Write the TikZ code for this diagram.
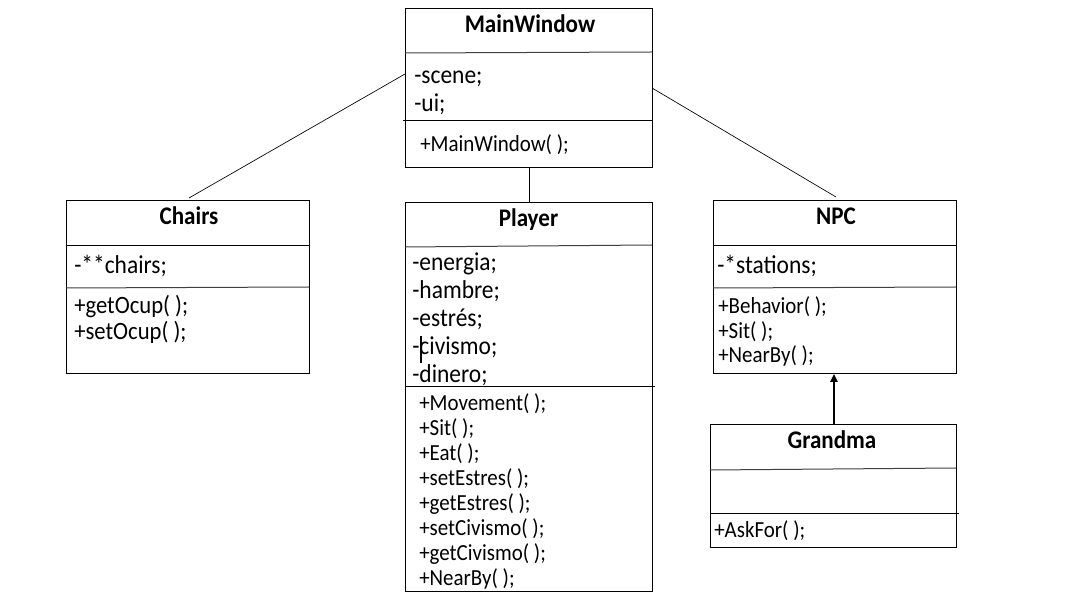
\documentclass[tikz,border=0pt]{standalone}
\usepackage{fontspec}
\setmainfont{Carlito}
\usetikzlibrary{arrows.meta}
\begin{document}
\begin{tikzpicture}[x=0.75pt,y=-0.75pt,
  box/.style={draw=black,line width=0.75pt,anchor=north west,inner sep=0pt,fill=white},
  sep/.style={line width=0.75pt,draw=black!75},
  sepdark/.style={line width=0.75pt,draw=black},
  txt/.style={inner sep=0pt,yscale=1.1,transform shape},
  ttl/.style={txt,font=\fontsize{17.3}{20}\selectfont\bfseries,anchor=base},
  attr/.style={txt,font=\fontsize{17.6}{21}\selectfont,anchor=base west},
  meth/.style={txt,font=\fontsize{15.7}{19}\selectfont,anchor=base west},
  methbig/.style={txt,font=\fontsize{17}{20}\selectfont,anchor=base west},
  assoc/.style={line width=0.5pt,draw=black},
  inherit/.style={line width=1.5pt,draw=black,-{Triangle[length=6pt,width=5.5pt]}}
]
\useasboundingbox (0,0) rectangle (1067,605);
\fill[white] (0,0) rectangle (1067,605);

% MainWindow
\node[box,minimum width=247*0.75pt,minimum height=159*0.75pt] (mw) at (405,8) {};
\draw[sep] (405,53) -- (652,52);
\draw[sepdark] (403,121) -- (652,121);
\node[ttl] (mwt) at (530,33) {MainWindow};
\node[attr] (mwa1) at (414,84) {-scene;};
\node[attr] (mwa2) at (414,111.5) {-ui;};
\node[meth] (mwm1) at (420,152) {+MainWindow( );};

% Chairs
\node[box,minimum width=243*0.75pt,minimum height=173*0.75pt] (ch) at (66,200) {};
\draw[sepdark] (66,246) -- (309,246);
\draw[sep] (66,288) -- (309,287);
\node[ttl] (cht) at (189,225) {Chairs};
\node[attr] (cha1) at (74,274) {-**chairs;};
\node[methbig] (chm1) at (74,314) {+getOcup( );};
\node[methbig] (chm2) at (74,340) {+setOcup( );};

% Player
\node[box,minimum width=247*0.75pt,minimum height=389*0.75pt] (pl) at (405,202) {};
\draw[sep] (405,247) -- (652,245);
\draw[sepdark] (405,387) -- (655,387);
\node[ttl] (plt) at (528.5,227) {Player};
\node[attr] (pla1) at (412,271) {-energia;};
\node[attr] (pla2) at (412,298.8) {-hambre;};
\node[attr] (pla3) at (412,326.6) {-estrés;};
\node[attr] (pla4) at (412,354.4) {-civismo;};
\node[attr] (pla5) at (412,382.2) {-dinero;};
\draw[line width=1.5pt] (421,336) -- (421,363);
\node[meth] (plm1) at (419,411) {+Movement( );};
\node[meth] (plm2) at (419,435.9) {+Sit( );};
\node[meth] (plm3) at (419,460.8) {+Eat( );};
\node[meth] (plm4) at (419,485.7) {+setEstres( );};
\node[meth] (plm5) at (419,510.6) {+getEstres( );};
\node[meth] (plm6) at (419,535.5) {+setCivismo( );};
\node[meth] (plm7) at (419,560.4) {+getCivismo( );};
\node[meth] (plm8) at (419,585.3) {+NearBy( );};

% NPC
\node[box,minimum width=243*0.75pt,minimum height=173*0.75pt] (npc) at (713,200) {};
\draw[sepdark] (713,246) -- (956,246);
\draw[sep] (713,288) -- (956,287);
\node[ttl] (npct) at (836,225) {NPC};
\node[attr] (npca1) at (717,274) {-*stations;};
\node[meth] (npcm1) at (718,314) {+Behavior( );};
\node[meth] (npcm2) at (718,338.5) {+Sit( );};
\node[meth] (npcm3) at (718,363) {+NearBy( );};

% Grandma
\node[box,minimum width=246*0.75pt,minimum height=123*0.75pt] (gm) at (710,424) {};
\draw[sep] (710,470) -- (956,468);
\draw[sepdark] (710,513) -- (959,513);
\node[ttl] (gmt) at (832,449) {Grandma};
\node[meth] (gmm1) at (714,537) {+AskFor( );};

% connectors
\coordinate (mwL) at (405,74);
\coordinate (mwR) at (652,88);
\coordinate (chT) at (189,198);
\coordinate (npcT) at (836,197);
\draw[assoc] (mwL) -- (chT);
\draw[assoc] (mwR) -- (npcT);
\draw[assoc] (mw.south -| 529,0) -- (pl.north -| 529,0);
\draw[inherit] (gm.north -| 834,0) -- (npc.south -| 834,0);
\end{tikzpicture}
\end{document}
